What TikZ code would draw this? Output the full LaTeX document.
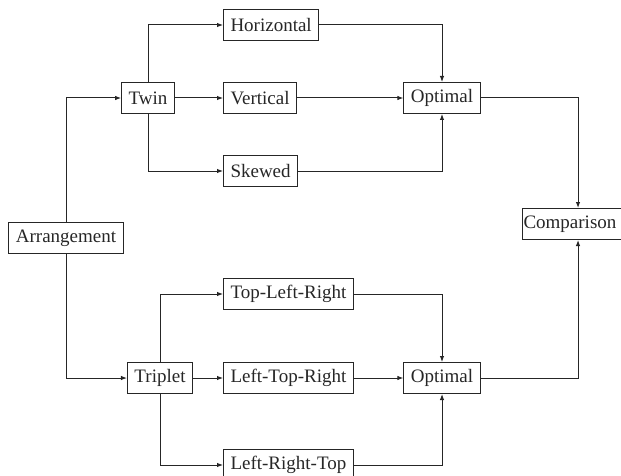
\documentclass[tikz,border=0pt]{standalone}
\usepackage{fontspec}
\setmainfont{Liberation Serif}
\usetikzlibrary{arrows.meta}
\begin{document}
\begin{tikzpicture}[x=1pt,y=-1pt,every node/.style={font=\fontsize{19}{21}\selectfont,text=black!85},
  box/.style={draw=black!85,line width=1pt,inner xsep=7pt,inner ysep=0pt,minimum height=31pt},
  link/.style={draw=black!85,line width=1pt,-{Latex[length=6pt,width=4.5pt]}}]
\useasboundingbox (0,0) rectangle (621,476);

\def\xb{223}
        \node[box] (arr) at (66,238) {Arrangement};
        \node[box] (twin) at (148,98) {Twin};
        \node[box] (trip) at (160,378) {Triplet};
        \node[box,anchor=west] (hor) at (\xb,25) {Horizontal};
        \node[box,anchor=west] (ver) at (\xb,98) {Vertical};
        \node[box,anchor=west] (skw) at (\xb,171) {Skewed};
        \node[box,anchor=west,minimum width=126pt] (tlr) at (\xb,294) {Top-Left-Right};
        \node[box,anchor=west,minimum width=126pt] (ltr) at (\xb,378) {Left-Top-Right};
        \node[box,anchor=west,minimum width=126pt] (lrt) at (\xb,465) {Left-Right-Top};
        \node[box] (optA) at (442,98) {Optimal};
        \node[box] (optB) at (442,378) {Optimal};
        \node[box,inner xsep=1.5pt,text width=109pt,align=left] (cmp) at (578,224) {Comparison};

        \draw[link] (arr.north) |- (twin.west);
        \draw[link] (arr.south) |- (trip.west);
        \draw[link] (twin.north) |- (hor.west);
        \draw[link] (twin.east) -- (ver.west);
        \draw[link] (twin.south) |- (skw.west);
        \draw[link] (trip.north) |- (tlr.west);
        \draw[link] (trip.east) -- (ltr.west);
        \draw[link] (trip.south) |- (lrt.west);
        \draw[link] (hor.east) -| (optA.north);
        \draw[link] (ver.east) -- (optA.west);
        \draw[link] (skw.east) -| (optA.south);
        \draw[link] (tlr.east) -| (optB.north);
        \draw[link] (ltr.east) -- (optB.west);
        \draw[link] (lrt.east) -| (optB.south);
        \draw[link] (optA.east) -| (cmp.north);
        \draw[link] (optB.east) -| (cmp.south);
\end{tikzpicture}
\end{document}
